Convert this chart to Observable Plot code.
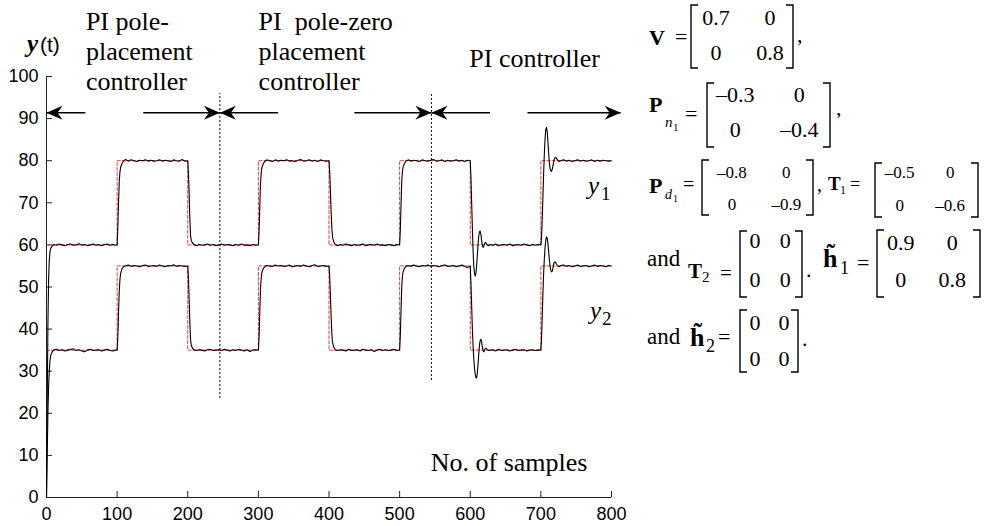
<!DOCTYPE html>
<html><head><meta charset="utf-8">
<script src="https://cdn.jsdelivr.net/npm/d3@7"></script>
<script src="https://cdn.jsdelivr.net/npm/@observablehq/plot@0.6"></script>
<style>
body{margin:0;background:#fff;}
#wrap{position:relative;width:987px;height:526px;overflow:hidden;background:#fff;}
#wrap svg{position:absolute;left:0;top:0;}
</style></head><body><div id="wrap"></div>
<script>
// ---------------- data ----------------
const xTicks = [0,100,200,300,400,500,600,700,800];
const yTicks = [0,10,20,30,40,50,60,70,80,90,100];
const stepTimes = [0,100,200,300,400,500,600,700,800];
const y1Setpoint = [60,80,60,80,60,80,60,80,80];
const y2Setpoint = [35,55,35,55,35,55,35,55,55];

const y1Output = [
[0,0],[1,22],[2,41],[3,52],[4,56.5],[5,58.4],[6,59.2],[8,59.7],[10,60.1],[14,59.9],[18,60.2],[22,60],[26,59.8],[30,60.1],[34,60.2],[38,59.9],[42,60],[46,60.3],[50,59.9],[54,60.1],[58,59.8],[62,60],[66,60.2],[70,59.9],[74,60.1],[78,59.8],[82,60.1],[86,60.2],[90,59.9],[94,60.1],[98,59.9],[100,60],
[101,64],[102,70],[103,75],[104,77.3],[105,78.5],[107,79.4],[109,79.9],[112,80.3],[116,79.9],[120,80.2],[124,80],[128,79.8],[132,80.1],[136,80],[140,80.2],[144,79.9],[148,80.1],[152,79.9],[156,80],[160,80.2],[164,79.9],[168,80.1],[172,80],[176,79.8],[180,80.2],[184,80],[188,79.9],[192,80.3],[196,79.9],[200,80],
[201,77],[202,72],[203,66],[204,62.2],[205,61],[207,60.4],[209,60.1],[212,59.8],[216,60.1],[220,59.9],[224,60],[228,60.2],[232,59.9],[236,60.1],[240,59.8],[244,60],[248,60.2],[252,59.9],[256,60.1],[260,60],[264,59.8],[268,60.1],[272,59.9],[276,60.2],[280,59.9],[284,60],[288,59.8],[292,60.1],[296,59.9],[300,60],
[301,63],[302,69],[303,74.5],[304,77],[305,78.4],[307,79.3],[309,79.8],[312,80.2],[316,80],[320,79.8],[324,80.2],[328,79.9],[332,80.1],[336,80],[340,80.2],[344,79.9],[348,80],[352,79.8],[356,80.1],[360,80.3],[364,79.9],[368,80],[372,80.2],[376,79.9],[380,80.1],[384,79.8],[388,80.2],[392,80],[396,79.9],[400,80],
[401,77.5],[402,73],[403,68],[404,64],[405,61.8],[407,60.6],[409,60.1],[412,59.8],[416,60.1],[420,59.9],[424,60.2],[428,60],[432,59.8],[436,60.1],[440,59.9],[444,60],[448,60.2],[452,59.8],[456,60],[460,60.1],[464,59.9],[468,60.2],[472,59.9],[476,60],[480,59.8],[484,60.1],[488,60],[492,59.8],[496,60.1],[500,60],
[501,63.5],[502,69.5],[503,75],[504,77.5],[505,78.6],[507,79.4],[509,79.9],[512,80.2],[516,79.9],[520,80.1],[524,80],[528,79.8],[532,80.2],[536,80],[540,79.9],[544,80.1],[548,80.3],[552,79.9],[556,80],[560,80.2],[564,79.8],[568,80.1],[572,79.9],[576,80],[580,80.2],[584,79.9],[588,80.1],[592,79.8],[596,80.1],[600,80],
[601,76],[602,70],[603,64],[604,58.5],[605,55],[606,53.3],[607,52.6],[608,53.2],[609,55],[610,57.5],[611,60],[612,62],[613,63.1],[614,63.3],[615,62.6],[616,61.2],[617,60],[618,59.4],[619,59.6],[620,60.2],[621,60.6],[622,60.5],[624,60],[626,59.8],[628,60.1],[632,59.9],[636,60.2],[640,59.8],[644,60],[648,60.1],[652,59.9],[656,60.2],[660,59.8],[664,60],[668,60.1],[672,59.9],[676,60.2],[680,60],[684,59.8],[688,60.1],[692,59.9],[696,60.1],[700,60],
[701,62],[702,66.5],[703,72],[704,77.5],[705,82],[706,85.5],[707,87.5],[708,87.9],[709,86.8],[710,84.5],[711,81.8],[712,79.5],[713,78.2],[714,77.6],[715,77.5],[716,77.9],[717,78.7],[718,79.6],[719,80.3],[720,80.7],[721,80.8],[722,80.6],[724,80.1],[726,79.8],[728,80],[732,80.2],[736,79.9],[740,80.1],[744,79.8],[748,80],[752,80.2],[756,79.9],[760,80.1],[764,79.9],[768,80],[772,80.2],[776,79.8],[780,80.1],[784,79.9],[788,80.1],[792,80],[796,79.9],[800,80]
];

const y2Output = [
[0,0],[1,10],[2,20],[3,26.5],[4,30.3],[5,32.6],[6,33.8],[8,34.6],[10,35],[14,35.2],[18,34.9],[22,35.1],[26,34.8],[30,35],[34,35.2],[38,35.3],[42,34.9],[46,35.1],[50,34.8],[54,34.6],[58,35],[62,35.2],[66,34.9],[70,35],[74,35.1],[78,34.8],[82,35],[86,35.2],[90,34.9],[94,34.8],[98,35],[100,35],
[101,38],[102,44],[103,49],[104,51.8],[105,53.3],[107,54.3],[109,54.8],[112,55],[116,55.2],[120,54.9],[124,55.1],[128,55],[132,54.8],[136,55.1],[140,55.2],[144,54.9],[148,55],[152,55.1],[156,54.9],[160,55.2],[164,55],[168,54.8],[172,55.1],[176,55],[180,55.3],[184,54.9],[188,55.1],[192,55],[196,54.9],[200,55],
[201,52],[202,47],[203,41.5],[204,37.5],[205,36.1],[207,35.4],[209,35.1],[212,34.9],[216,35.1],[220,35],[224,34.8],[228,35.1],[232,35.2],[236,34.9],[240,35],[244,35.1],[248,34.9],[252,35.2],[256,35],[260,34.8],[264,35.1],[268,34.9],[272,35.2],[276,35],[280,34.8],[284,35.1],[288,34.7],[292,35],[296,35.1],[300,35],
[301,38],[302,44],[303,49.5],[304,52],[305,53.5],[307,54.4],[309,54.8],[312,55.1],[316,55],[320,54.9],[324,55.2],[328,55],[332,55.1],[336,54.9],[340,55],[344,55.2],[348,54.8],[352,55],[356,55.1],[360,54.9],[364,55.2],[368,55],[372,54.8],[376,55.1],[380,55.3],[384,54.9],[388,55],[392,55.1],[396,54.9],[400,55],
[401,52.5],[402,48],[403,43],[404,39],[405,36.8],[407,35.6],[409,35.1],[412,34.9],[416,35.1],[420,35],[424,34.8],[428,35.2],[432,34.9],[436,35],[440,35.1],[444,34.8],[448,35.2],[452,35],[456,34.9],[460,35.1],[464,34.7],[468,35],[472,35.2],[476,34.9],[480,35.1],[484,34.9],[488,35],[492,35.2],[496,34.9],[500,35],
[501,38.5],[502,44.5],[503,50],[504,52.5],[505,53.7],[507,54.5],[509,54.9],[512,55.1],[516,54.9],[520,55.2],[524,55],[528,54.8],[532,55.1],[536,55],[540,55.2],[544,54.9],[548,55.1],[552,55],[556,54.8],[560,55.1],[564,55.2],[568,54.9],[572,55],[576,55.1],[580,54.8],[584,55],[588,55.2],[592,54.9],[596,54.6],[600,55],
[601,51],[602,45.5],[603,40],[604,36],[605,33],[606,30.8],[607,29.3],[608,28.5],[609,28.4],[610,29.5],[611,31.5],[612,34],[613,36],[614,37.3],[615,37.6],[616,37.1],[617,35.9],[618,35],[619,34.6],[620,34.8],[621,35.3],[622,35.5],[624,35.2],[626,34.9],[628,35],[632,35.1],[636,34.8],[640,35.2],[644,34.9],[648,35],[652,35.1],[656,34.8],[660,35],[664,35.2],[668,34.9],[672,35],[676,35.1],[680,34.8],[684,35],[688,35.1],[692,34.9],[696,35],[700,35],
[701,38],[702,43.5],[703,49],[704,53.5],[705,57],[706,59.5],[707,61.2],[708,61.9],[709,61.6],[710,60.3],[711,58.5],[712,56.6],[713,55],[714,54],[715,53.6],[716,53.7],[717,54.4],[718,55.3],[719,55.9],[720,56],[721,55.8],[722,55.4],[724,55],[726,54.8],[728,55.1],[732,55.2],[736,54.9],[740,55.1],[744,54.8],[748,55],[752,55.2],[756,54.9],[760,55],[764,55.1],[768,54.8],[772,55],[776,55.2],[780,54.9],[784,55.1],[788,55],[792,54.8],[796,55.1],[800,55]
];

// controller switching instants and the dotted dividers
const dividerSamples = [245.5, 545];
const dividerTop = [96, 96];
const dividerBottom = [23.5, 27.8];
// arrows: tail sample -> tip sample, at level arrowLevel
const arrowTails = [55, 137, 328, 436, 628, 681];
const arrowTips  = [0, 245.5, 245.5, 545, 545, 813];
const arrowLevel = 91.4;

const sectionLabels = ["PI pole-\nplacement\ncontroller", "PI\u00a0 pole-zero\nplacement\ncontroller", "PI controller"];
const sectionLabelX = [55.8, 300.3, 598.6];
const sectionLabelY = [96.7, 96.7, 102.3];
const xAxisLabel = "No. of samples";

// parameter matrices
const matV   = [[0.7, 0], [0, 0.8]];
const matPn1 = [[-0.3, 0], [0, -0.4]];
const matPd1 = [[-0.8, 0], [0, -0.9]];
const matT1  = [[-0.5, 0], [0, -0.6]];
const matT2  = [[0, 0], [0, 0]];
const matH1  = [[0.9, 0], [0, 0.8]];
const matH2  = [[0, 0], [0, 0]];

// ---------------- build ----------------
const toRows = (a) => a.map(([s, v]) => ({s, v}));
const setRows = (lv) => stepTimes.map((t, i) => ({s: t, v: lv[i]}));
const dividers = dividerSamples.map((s, i) => ({s, top: dividerTop[i], bottom: dividerBottom[i]}));
const arrows = arrowTails.map((t, i) => ({x1: t, x2: arrowTips[i], y: arrowLevel}));
const labels = sectionLabels.map((l, i) => ({l, x: sectionLabelX[i], y: sectionLabelY[i]}));

function arrowHead(color) {
  const m = d3.create("svg:marker")
    .attr("viewBox", "-18 -9 19 18")
    .attr("markerWidth", 19).attr("markerHeight", 18)
    .attr("markerUnits", "userSpaceOnUse")
    .attr("orient", "auto")
    .attr("refX", 0).attr("refY", 0)
    .attr("overflow", "visible");
  m.append("path").attr("d", "M0,0L-16,-7L-11,0L-16,7Z").attr("fill", "black").attr("stroke", "none");
  return m.node();
}

const serif = "'Liberation Serif', 'Times New Roman', serif";
const plot = Plot.plot({
  width: 987, height: 526,
  marginLeft: 46, marginRight: 376, marginTop: 76, marginBottom: 29,
  x: {domain: [0, 800]},
  y: {domain: [0, 100]},
  style: {fontFamily: "'Liberation Sans', Arial, sans-serif", fontSize: "18px", color: "black", background: "white", overflow: "visible"},
  marks: [
    Plot.ruleX([0], {stroke: "#222"}),
    Plot.ruleY([0], {stroke: "#222"}),
    Plot.axisX({ticks: xTicks, tickSize: -6, tickPadding: 16, label: null, fontSize: 18, stroke: "#222"}),
    Plot.axisY({ticks: yTicks, tickSize: -6, tickPadding: 14, label: null, fontSize: 18, stroke: "#222"}),
    Plot.line(setRows(y1Setpoint), {x: "s", y: "v", curve: "step-after", stroke: "#f03a3a", strokeWidth: 1, strokeDasharray: "3,2"}),
    Plot.line(setRows(y2Setpoint), {x: "s", y: "v", curve: "step-after", stroke: "#f03a3a", strokeWidth: 1, strokeDasharray: "3,2"}),
    Plot.line(toRows(y1Output), {x: "s", y: "v", stroke: "black", strokeWidth: 1.1}),
    Plot.line(toRows(y2Output), {x: "s", y: "v", stroke: "black", strokeWidth: 1.1}),
    Plot.ruleX(dividers, {x: "s", y1: "bottom", y2: "top", stroke: "black", strokeWidth: 1, strokeDasharray: "2,2"}),
    Plot.link(arrows, {x1: "x1", x2: "x2", y1: "y", y2: "y", stroke: "black", strokeWidth: 1.4, markerEnd: arrowHead}),
    Plot.text(labels, {x: "x", y: "y", text: "l", textAnchor: "start", lineAnchor: "bottom", lineHeight: 30 / 26, fontSize: 26, fontFamily: serif, fill: "black"}),
    Plot.text([xAxisLabel], {x: 544, y: 6.25, text: (d) => d, textAnchor: "start", lineAnchor: "bottom", fontSize: 26, fontFamily: serif, fill: "black"})
  ]
});
const wrap = document.getElementById("wrap");
wrap.appendChild(plot);

// ---------------- overlay annotations (math text) ----------------
const ov = d3.select(wrap).append("svg").attr("width", 987).attr("height", 526)
  .attr("font-family", serif).style("pointer-events", "none");

function t(x, y, s, size, opts = {}) {
  const e = ov.append("text").attr("x", x).attr("y", y).attr("font-size", size).text(s)
    .attr("text-anchor", opts.anchor || "start").attr("font-family", opts.family || serif);
  if (opts.weight) e.attr("font-weight", opts.weight);
  if (opts.style) e.attr("font-style", opts.style);
  return e;
}
const fmt = (v) => v < 0 ? "\u2013" + String(-v) : String(v);
function matrix(M, L, R, T, B, rows, cols, size) {
  const arm = 7;
  ov.append("path").attr("d", `M${L + arm},${T}H${L}V${B}H${L + arm}`).attr("fill", "none").attr("stroke", "black").attr("stroke-width", 1.4);
  ov.append("path").attr("d", `M${R - arm},${T}H${R}V${B}H${R - arm}`).attr("fill", "none").attr("stroke", "black").attr("stroke-width", 1.4);
  M.forEach((row, i) => row.forEach((v, j) => t(L + (R - L) * cols[j], rows[i], fmt(v), size, {anchor: "middle"})));
}

// y(t)
t(27, 52, "y", 25, {weight: "bold", style: "italic"});
t(40, 52, "(t)", 21, {family: "'Liberation Sans', Arial, sans-serif"});
// curve names
t(588, 194, "y", 25, {style: "italic"});
t(601, 200, "1", 19);
t(590, 319, "y", 25, {style: "italic"});
t(602, 325, "2", 19);

// V
t(649, 45, "V", 22, {weight: "bold"});
t(675, 44, "=", 22);
matrix(matV, 691, 793, 5, 68, [25, 60], [0.245, 0.775], 22);
t(797, 42, ",", 22);
// Pn1
t(649, 112, "P", 22, {weight: "bold"});
t(665, 127, "n", 15, {style: "italic"});
t(673, 131, "1", 11);
t(685, 121, "=", 22);
matrix(matPn1, 707, 830, 83, 147, [102, 137], [0.23, 0.75], 22);
t(836, 115, ",", 22);
// Pd1
t(649, 193, "P", 22, {weight: "bold"});
t(665, 199, "d", 14, {style: "italic"});
t(673, 202, "1", 10);
t(683, 191, "=", 20);
matrix(matPd1, 702, 813, 160, 215, [178, 210], [0.27, 0.76], 17);
t(817, 191, ",", 20);
// T1
t(828, 190, "T", 19, {weight: "bold"});
t(840, 194, "1", 12);
t(850, 190, "=", 18);
matrix(matT1, 875, 978, 163, 217, [178, 211], [0.24, 0.73], 17);
// and T2
t(647, 266, "and", 23);
t(688, 278, "T", 21, {weight: "bold"});
t(702, 282, "2", 15);
t(720, 280, "=", 21);
matrix(matT2, 740, 802, 231, 297, [248, 287], [0.24, 0.73], 22);
t(806, 277, ".", 22);
// h1
t(823, 267, "h\u0303", 26, {weight: "bold"});
t(840, 274, "1", 18);
t(857, 270, "=", 22);
matrix(matH1, 877, 980, 230, 297, [250, 287], [0.23, 0.73], 22);
// and h2
t(647, 344, "and", 23);
t(690, 346, "h\u0303", 26, {weight: "bold"});
t(706, 352, "2", 18);
t(718, 344, "=", 22);
matrix(matH2, 740, 798, 310, 372, [330, 366], [0.26, 0.76], 22);
t(802, 346, ".", 22);
</script></body></html>
